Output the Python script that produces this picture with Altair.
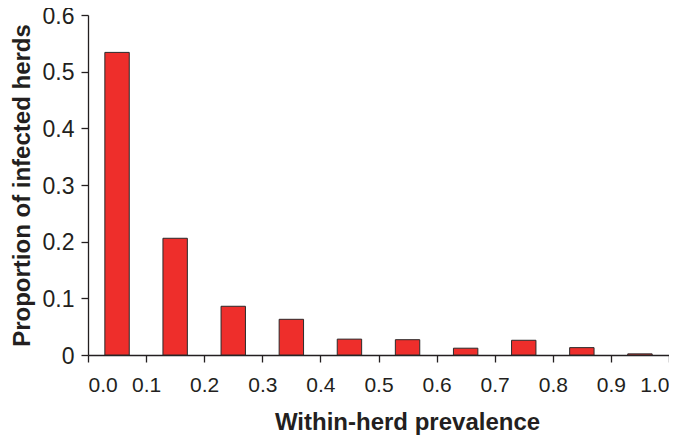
import altair as alt
import pandas as pd

centers = [0.05, 0.15, 0.25, 0.35, 0.45, 0.55, 0.65, 0.75, 0.85, 0.95]
proportions = [0.534, 0.206, 0.086, 0.063, 0.028, 0.027, 0.012, 0.026, 0.013, 0.002]

half = 0.021
df = pd.DataFrame({
    "center": centers,
    "start": [c - half for c in centers],
    "end": [c + half for c in centers],
    "prop": proportions,
})

bars = alt.Chart(df).mark_bar(color="#ee2e2b", stroke="#2a2a2a", strokeWidth=1).encode(
    x=alt.X("start:Q", scale=alt.Scale(domain=[0, 1], nice=False, zero=False),
            axis=alt.Axis(title="Within-herd prevalence", values=[i / 10 for i in range(11)],
                          format=".1f", grid=False, labelFontSize=21,
                          labelPadding=12, titlePadding=15, titleX=319)),
    x2="end:Q",
    y=alt.Y("prop:Q", scale=alt.Scale(domain=[0, 0.6], nice=False),
            axis=alt.Axis(title="Proportion of infected herds", values=[i / 10 for i in range(7)],
                          labelExpr="datum.value == 0 ? '0' : format(datum.value, '.1f')",
                          grid=False, labelFontSize=23, labelPadding=7, titlePadding=8,
                          labelOffset=1)),
    y2=alt.datum(0),
)

chart = bars.properties(
    width=581, height=340,
    autosize=alt.AutoSizeParams(type="none"),
    padding={"left": 80, "top": 7, "right": 0, "bottom": 80},
).configure_view(stroke=None).configure_axis(
    labelFont="Liberation Sans", titleFont="Liberation Sans",
    titleFontSize=24, titleFontWeight="bold",
    labelColor="#231f20", titleColor="#231f20",
    domainColor="#231f20", tickColor="#231f20", domainWidth=1.3, tickWidth=1.3,
    tickSize=7,
)

chart.save("out.html", embed_options={"renderer": "svg", "actions": False})
